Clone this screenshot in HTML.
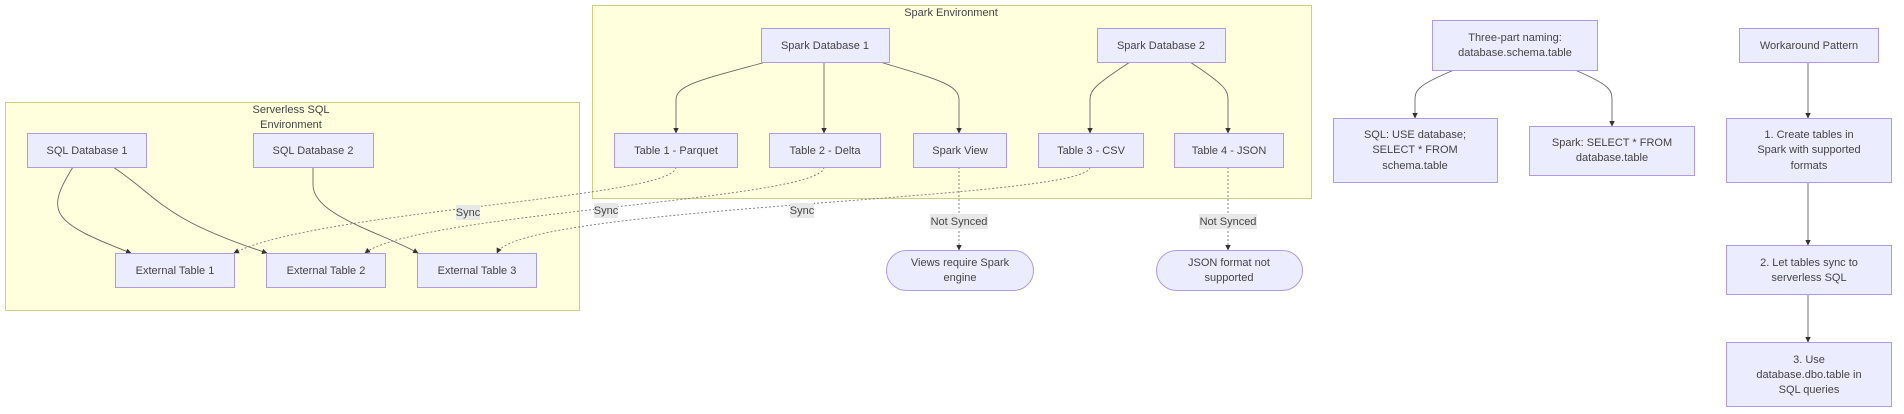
<!DOCTYPE html>
<html><head><meta charset="utf-8"><style>
html,body{margin:0;padding:0;background:#fff;}
svg{display:block;font-family:"Liberation Sans","DejaVu Sans",sans-serif;}
.n{fill:#ECECFF;stroke:#B09AE6;stroke-width:1;}
.c{fill:#FFFFDE;stroke:#CFCF80;stroke-width:1;}
.t{font-size:11px;fill:#444;text-anchor:middle;}
.e{fill:none;stroke:#666;stroke-width:0.9;}
.d{fill:none;stroke:#777;stroke-width:0.9;stroke-dasharray:2 2;}
.lb{fill:#e8e8e8;}
</style></head><body>
<svg width="1904" height="414" viewBox="0 0 1904 414" xmlns="http://www.w3.org/2000/svg">
<defs><marker id="a" viewBox="0 0 10 10" refX="9" refY="5" markerWidth="5.5" markerHeight="5.5" orient="auto" markerUnits="userSpaceOnUse"><path d="M0,0L10,5L0,10z" fill="#333"/></marker></defs>
<rect class="c" x="592.5" y="5.5" width="719" height="193"/>
<text class="t" x="951" y="16">Spark Environment</text>
<rect class="c" x="5.5" y="102.5" width="574" height="208"/>
<text class="t" x="291" y="113">Serverless SQL</text>
<text class="t" x="291" y="128">Environment</text>

<path class="e" marker-end="url(#a)" d="M766,62 C700,80 676,85 676,100 L676,133"/>
<path class="e" marker-end="url(#a)" d="M824,62 L824,133"/>
<path class="e" marker-end="url(#a)" d="M880,62 C940,80 959,85 959,100 L959,133"/>
<path class="e" marker-end="url(#a)" d="M1130,62 C1095,85 1090,90 1090,100 L1090,133"/>
<path class="e" marker-end="url(#a)" d="M1190,62 C1225,85 1228,90 1228,100 L1228,133"/>
<path class="e" marker-end="url(#a)" d="M73,167 C45,212 50,222 131,253"/>
<path class="e" marker-end="url(#a)" d="M113,167 C160,198 160,218 267,253"/>
<path class="e" marker-end="url(#a)" d="M313,167 L313,185 C313,215 380,232 418,253"/>
<path class="d" marker-end="url(#a)" d="M676,167 C676,198 320,210 234,253"/>
<path class="d" marker-end="url(#a)" d="M824,167 C824,200 420,212 365,253"/>
<path class="d" marker-end="url(#a)" d="M1090,167 C1090,200 520,205 497,253"/>
<path class="d" marker-end="url(#a)" d="M959,167 L959,250"/>
<path class="d" marker-end="url(#a)" d="M1228,167 L1228,250"/>
<path class="e" marker-end="url(#a)" d="M1454,70 C1418,85 1415,90 1415,100 L1415,118"/>
<path class="e" marker-end="url(#a)" d="M1575,70 C1610,85 1612,90 1612,100 L1612,126"/>
<path class="e" marker-end="url(#a)" d="M1808,63 L1808,118"/>
<path class="e" marker-end="url(#a)" d="M1808,182 L1808,245"/>
<path class="e" marker-end="url(#a)" d="M1808,294 L1808,342"/>

<rect class="lb" x="456" y="205" width="24" height="15"/><text class="t" x="468" y="216">Sync</text>
<rect class="lb" x="594" y="203" width="24" height="15"/><text class="t" x="606" y="214">Sync</text>
<rect class="lb" x="790" y="203" width="24" height="15"/><text class="t" x="802" y="214">Sync</text>
<rect class="lb" x="930" y="214" width="58" height="15"/><text class="t" x="959" y="225">Not Synced</text>
<rect class="lb" x="1199" y="214" width="58" height="15"/><text class="t" x="1228" y="225">Not Synced</text>

<rect class="n" x="761.5" y="28.5" width="128" height="34"/><text class="t" x="825" y="49">Spark Database 1</text>
<rect class="n" x="1097.5" y="28.5" width="128" height="34"/><text class="t" x="1161" y="49">Spark Database 2</text>
<rect class="n" x="614.5" y="133.5" width="123" height="34"/><text class="t" x="676" y="154">Table 1 - Parquet</text>
<rect class="n" x="769.5" y="133.5" width="111" height="34"/><text class="t" x="825" y="154">Table 2 - Delta</text>
<rect class="n" x="913.5" y="133.5" width="93" height="34"/><text class="t" x="960" y="154">Spark View</text>
<rect class="n" x="1038.5" y="133.5" width="105" height="34"/><text class="t" x="1091" y="154">Table 3 - CSV</text>
<rect class="n" x="1174.5" y="133.5" width="109" height="34"/><text class="t" x="1229" y="154">Table 4 - JSON</text>
<rect class="n" x="886.5" y="250.5" width="147" height="40" rx="20"/><text class="t" x="960" y="266">Views require Spark</text><text class="t" x="960" y="281">engine</text>
<rect class="n" x="1156.5" y="250.5" width="146" height="40" rx="20"/><text class="t" x="1229" y="266">JSON format not</text><text class="t" x="1229" y="281">supported</text>

<rect class="n" x="27.5" y="133.5" width="119" height="34"/><text class="t" x="87" y="154">SQL Database 1</text>
<rect class="n" x="253.5" y="133.5" width="120" height="34"/><text class="t" x="313" y="154">SQL Database 2</text>
<rect class="n" x="115.5" y="253.5" width="119" height="34"/><text class="t" x="175" y="274">External Table 1</text>
<rect class="n" x="266.5" y="253.5" width="119" height="34"/><text class="t" x="326" y="274">External Table 2</text>
<rect class="n" x="417.5" y="253.5" width="119" height="34"/><text class="t" x="477" y="274">External Table 3</text>

<rect class="n" x="1432.5" y="20.5" width="165" height="50"/><text class="t" x="1515" y="41">Three-part naming:</text><text class="t" x="1515" y="56">database.schema.table</text>
<rect class="n" x="1333.5" y="118.5" width="164" height="64"/><text class="t" x="1415" y="138">SQL: USE database;</text><text class="t" x="1415" y="153">SELECT * FROM</text><text class="t" x="1415" y="169">schema.table</text>
<rect class="n" x="1529.5" y="126.5" width="165" height="49"/><text class="t" x="1612" y="146">Spark: SELECT * FROM</text><text class="t" x="1612" y="161">database.table</text>

<rect class="n" x="1739.5" y="28.5" width="139" height="34"/><text class="t" x="1809" y="49">Workaround Pattern</text>
<rect class="n" x="1726.5" y="118.5" width="165" height="64"/><text class="t" x="1809" y="138">1. Create tables in</text><text class="t" x="1809" y="153">Spark with supported</text><text class="t" x="1809" y="169">formats</text>
<rect class="n" x="1726.5" y="245.5" width="165" height="49"/><text class="t" x="1809" y="266">2. Let tables sync to</text><text class="t" x="1809" y="281">serverless SQL</text>
<rect class="n" x="1726.5" y="342.5" width="165" height="64"/><text class="t" x="1809" y="363">3. Use</text><text class="t" x="1809" y="378">database.dbo.table in</text><text class="t" x="1809" y="393">SQL queries</text>
</svg>
</body></html>
